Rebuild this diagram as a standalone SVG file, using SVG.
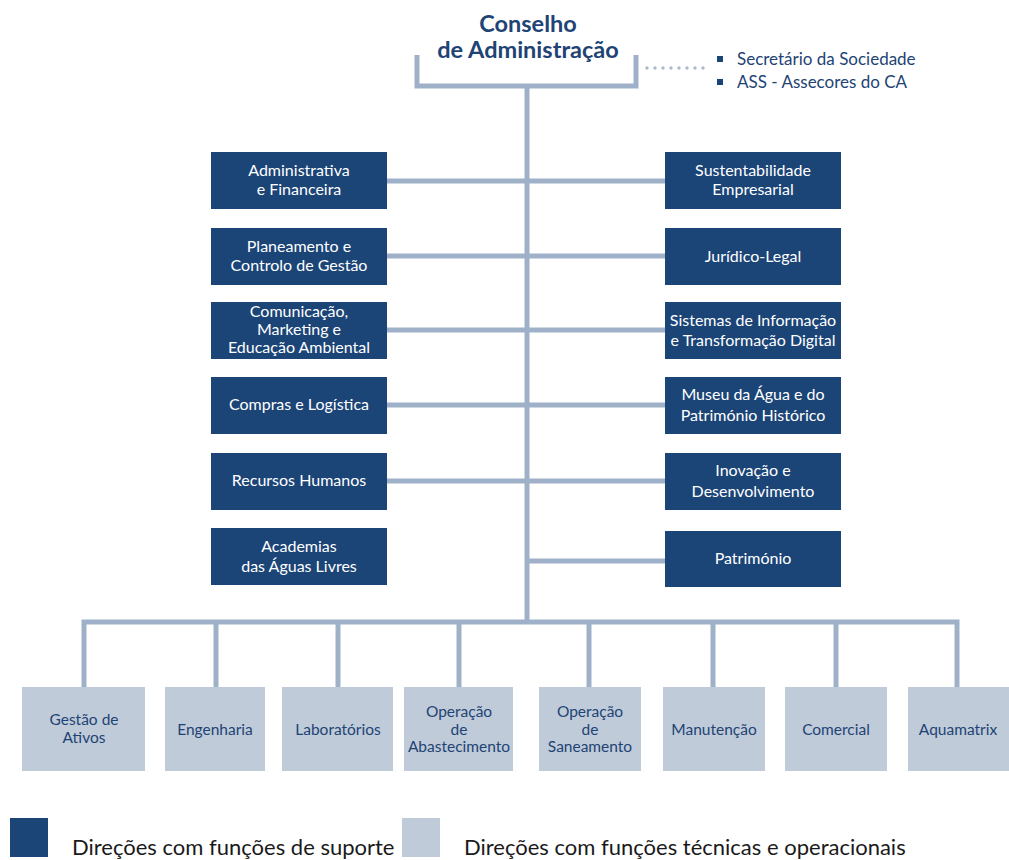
<svg xmlns="http://www.w3.org/2000/svg" width="1009" height="860" viewBox="0 0 1009 860">
<style>
.dk{fill:#1b4477}
.lt{fill:#bfcbd9}
.ln{stroke:#9fb1c8;stroke-width:5;fill:none}
.tw{font-family:Lato,"Open Sans",sans-serif;font-size:16px;fill:#ffffff;text-anchor:middle}
.tb{font-family:Lato,"Open Sans",sans-serif;font-size:15.5px;fill:#1e4374;text-anchor:middle}
.hd{font-family:Lato,"Open Sans",sans-serif;font-size:23.5px;font-weight:bold;fill:#1e4374;text-anchor:middle}
.sd{font-family:Lato,"Open Sans",sans-serif;font-size:17px;fill:#1e4374}
.lg{font-family:Lato,"Open Sans",sans-serif;font-size:22px;fill:#1a1a1a}
</style>
<rect width="1009" height="860" fill="#ffffff"/>
<g id="connectors">
<path class="ln" d="M417,55 V86 H636 V55"/>
<path class="ln" d="M527,86 V622"/>
<path class="ln" d="M387,181 H665 M387,256 H665 M387,330 H665 M387,405 H665 M387,481 H665 M527,561 H665"/>
<path class="ln" d="M84,687 V622 H957 V687 M216,622 V687 M338,622 V687 M459,622 V687 M589,622 V687 M713,622 V687 M836,622 V687"/>
<g fill="#aab8cc">
<circle cx="647" cy="68" r="1.7"/><circle cx="655" cy="68" r="1.7"/><circle cx="663" cy="68" r="1.7"/><circle cx="671" cy="68" r="1.7"/><circle cx="679" cy="68" r="1.7"/><circle cx="687" cy="68" r="1.7"/><circle cx="695" cy="68" r="1.7"/><circle cx="703" cy="68" r="1.7"/>
</g>
</g>
<g id="conselho">
<text class="hd" x="528" y="32">Conselho</text>
<text class="hd" x="528" y="58">de Administração</text>
</g>
<g id="staff">
<rect class="dk" x="717" y="56" width="6" height="6"/>
<rect class="dk" x="717" y="79" width="6" height="6"/>
<text class="sd" x="737" y="65">Secretário da Sociedade</text>
<text class="sd" x="737" y="88">ASS - Assecores do CA</text>
</g>
<g id="n-admfin"><rect class="dk" x="211" y="152" width="176" height="57"/><text class="tw" x="299" y="176">Administrativa</text><text class="tw" x="299" y="195">e Financeira</text></g>
<g id="n-plan"><rect class="dk" x="211" y="228" width="176" height="57"/><text class="tw" x="299" y="252">Planeamento e</text><text class="tw" x="299" y="271">Controlo de Gestão</text></g>
<g id="n-com"><rect class="dk" x="211" y="302" width="176" height="57"/><text class="tw" x="299" y="317">Comunicação,</text><text class="tw" x="299" y="335">Marketing e</text><text class="tw" x="299" y="353">Educação Ambiental</text></g>
<g id="n-compras"><rect class="dk" x="211" y="377" width="176" height="57"/><text class="tw" x="299" y="410">Compras e Logística</text></g>
<g id="n-rh"><rect class="dk" x="211" y="453" width="176" height="57"/><text class="tw" x="299" y="486">Recursos Humanos</text></g>
<g id="n-acad"><rect class="dk" x="211" y="528" width="176" height="57"/><text class="tw" x="299" y="552">Academias</text><text class="tw" x="299" y="572">das Águas Livres</text></g>
<g id="n-sust"><rect class="dk" x="665" y="152" width="176" height="57"/><text class="tw" x="753" y="176">Sustentabilidade</text><text class="tw" x="753" y="195">Empresarial</text></g>
<g id="n-jur"><rect class="dk" x="665" y="228" width="176" height="57"/><text class="tw" x="753" y="262">Jurídico-Legal</text></g>
<g id="n-si"><rect class="dk" x="665" y="302" width="176" height="57"/><text class="tw" x="753" y="326">Sistemas de Informação</text><text class="tw" x="753" y="346">e Transformação Digital</text></g>
<g id="n-museu"><rect class="dk" x="665" y="377" width="176" height="57"/><text class="tw" x="753" y="400">Museu da Água e do</text><text class="tw" x="753" y="421">Património Histórico</text></g>
<g id="n-inov"><rect class="dk" x="665" y="453" width="176" height="57"/><text class="tw" x="753" y="476">Inovação e</text><text class="tw" x="753" y="497">Desenvolvimento</text></g>
<g id="n-patr"><rect class="dk" x="665" y="531" width="176" height="56"/><text class="tw" x="753" y="564">Património</text></g>
<g id="n-gestao"><rect class="lt" x="22" y="687" width="123" height="84"/><text class="tb" x="84" y="725">Gestão de</text><text class="tb" x="84" y="743">Ativos</text></g>
<g id="n-eng"><rect class="lt" x="165" y="687" width="100" height="84"/><text class="tb" x="215" y="735">Engenharia</text></g>
<g id="n-lab"><rect class="lt" x="282" y="687" width="111" height="84"/><text class="tb" x="338" y="735">Laboratórios</text></g>
<g id="n-abast"><rect class="lt" x="404" y="687" width="109" height="84"/><text class="tb" x="459" y="717">Operação</text><text class="tb" x="459" y="735">de</text><text class="tb" x="459" y="752">Abastecimento</text></g>
<g id="n-san"><rect class="lt" x="539" y="687" width="102" height="84"/><text class="tb" x="590" y="717">Operação</text><text class="tb" x="590" y="735">de</text><text class="tb" x="590" y="752">Saneamento</text></g>
<g id="n-man"><rect class="lt" x="663" y="687" width="102" height="84"/><text class="tb" x="714" y="735">Manutenção</text></g>
<g id="n-com2"><rect class="lt" x="785" y="687" width="102" height="84"/><text class="tb" x="836" y="735">Comercial</text></g>
<g id="n-aqua"><rect class="lt" x="908" y="687" width="101" height="84"/><text class="tb" x="958" y="735">Aquamatrix</text></g>
<g id="legend">
<rect class="dk" x="10" y="818" width="38" height="39"/>
<text class="lg" x="72" y="855">Direções com funções de suporte</text>
<rect class="lt" x="402" y="818" width="38" height="39"/>
<text class="lg" x="464" y="855">Direções com funções técnicas e operacionais</text>
</g>
</svg>
